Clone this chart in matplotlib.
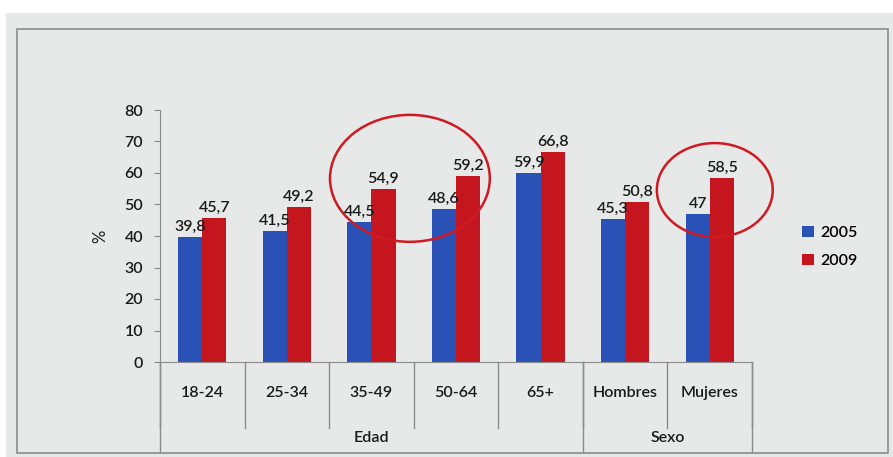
import matplotlib.pyplot as plt
import numpy as np
from matplotlib.patches import Ellipse, Rectangle

# Datos
categorias = ['18-24', '25-34', '35-49', '50-64', '65+', 'Hombres', 'Mujeres']
grupos = ['Edad', 'Sexo']
tam_grupos = [5, 2]
serie_2005 = [39.8, 41.5, 44.5, 48.6, 59.9, 45.3, 47]
serie_2009 = [45.7, 49.2, 54.9, 59.2, 66.8, 50.8, 58.5]
etiquetas_2005 = ['39,8', '41,5', '44,5', '48,6', '59,9', '45,3', '47']
etiquetas_2009 = ['45,7', '49,2', '54,9', '59,2', '66,8', '50,8', '58,5']
anios = ['2005', '2009']

plt.rcParams['font.family'] = ['Lato', 'DejaVu Sans']
plt.rcParams['font.weight'] = 'semibold'

azul = '#2a52b6'
rojo = '#c5161f'
fondo = '#e7e8e8'
gris = '#8c8c8c'
texto = '#1a1a1a'

fig = plt.figure(figsize=(8.93, 4.57), dpi=100, facecolor=fondo)
W, H = 893, 457

# franjas blancas y marco exterior
fig.patches.append(Rectangle((0, 1 - 13 / H), 1, 13 / H, transform=fig.transFigure,
                             facecolor='white', edgecolor='none'))
fig.patches.append(Rectangle((0, 0), 6 / W, 1, transform=fig.transFigure,
                             facecolor='white', edgecolor='none'))
fig.patches.append(Rectangle((17 / W, 1 - 453 / H), (888 - 17) / W, (453 - 29) / H,
                             transform=fig.transFigure, facecolor='none',
                             edgecolor=gris, lw=1.2))

ax = fig.add_axes([160 / W, 1 - 362 / H, (752 - 160) / W, (362 - 110) / H])
ax.set_facecolor(fondo)

x = np.arange(len(categorias))
ancho = 0.285
b1 = ax.bar(x - ancho / 2, serie_2005, ancho, color=azul, label=anios[0])
b2 = ax.bar(x + ancho / 2, serie_2009, ancho, color=rojo, label=anios[1])

for xi, v, t in zip(x, serie_2005, etiquetas_2005):
    ax.text(xi - ancho / 2, v + 1, t, ha='center', va='bottom', fontsize=11.5, color=texto)
for xi, v, t in zip(x, serie_2009, etiquetas_2009):
    ax.text(xi + ancho / 2, v + 1, t, ha='center', va='bottom', fontsize=11.5, color=texto)

ax.set_xlim(-0.5, len(categorias) - 0.5)
ax.set_ylim(0, 80)
ax.set_yticks(range(0, 81, 10))
ax.tick_params(axis='y', labelsize=11.5, length=4, color=gris, pad=8, labelcolor=texto)
ax.set_xticks([])
for s in ['top', 'right']:
    ax.spines[s].set_visible(False)
ax.spines['left'].set_color(gris)
ax.spines['bottom'].set_color(gris)
ax.set_ylabel('%', fontsize=12, labelpad=12, color=texto)

# ejes de categorías en dos niveles
tr = ax.get_xaxis_transform()
for i in range(len(categorias) + 1):
    ax.plot([i - 0.5, i - 0.5], [0, -0.262], transform=tr, color=gris, lw=1, clip_on=False)
for i, c in enumerate(categorias):
    ax.text(i, -0.123, c, transform=tr, ha='center', va='center', fontsize=11.5, color=texto)
inicio = 0
for g, n in zip(grupos, tam_grupos):
    ax.plot([inicio - 0.5, inicio - 0.5], [0, -0.357], transform=tr, color=gris, lw=1, clip_on=False)
    ax.text(inicio + (n - 1) / 2, -0.30, g, transform=tr, ha='center', va='center',
            fontsize=11.5, color=texto)
    inicio += n
ax.plot([inicio - 0.5, inicio - 0.5], [0, -0.357], transform=tr, color=gris, lw=1, clip_on=False)

# círculos de resaltado
ax.add_patch(Ellipse((2.455, 58.3), 1.89, 40.3, facecolor='none', edgecolor='#d01a22',
                     lw=1.8, clip_on=False))
ax.add_patch(Ellipse((6.06, 54.6), 1.37, 29.8, facecolor='none', edgecolor='#d01a22',
                     lw=1.8, clip_on=False))

fig.legend(handles=[b1, b2], loc='center left', bbox_to_anchor=(788 / W, 1 - 247 / H),
           frameon=False, fontsize=11.5, handlelength=0.7, handleheight=0.7,
           handletextpad=0.4, labelspacing=0.9)

fig.savefig('out.png', dpi=100, facecolor=fondo)
